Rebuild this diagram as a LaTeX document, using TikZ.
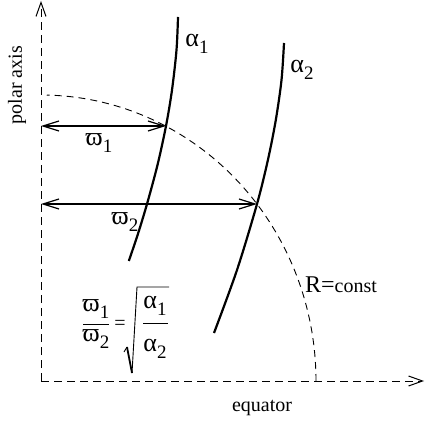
\documentclass[tikz,border=0pt]{standalone}
\usepackage{fontspec}
\setmainfont{Liberation Serif}
\usetikzlibrary{arrows.meta}
\newcommand\lsub[1]{\raisebox{-0.55ex}{\fontsize{9.5}{9.5}\selectfont #1}}
\begin{document}
\begin{tikzpicture}[x=0.5pt,y=-0.5pt,
  axis/.style={line width=0.5pt,dash pattern=on 4pt off 2.5pt,-{Straight Barb[length=7pt,width=5pt]}},
  arcline/.style={line width=0.45pt,dash pattern=on 3.5pt off 2.5pt},
  curve/.style={line width=1.1pt},
  dim/.style={line width=0.6pt,{Straight Barb[length=8pt,width=5pt]}-{Straight Barb[length=8pt,width=5pt]}},
  greek/.style={font=\fontsize{13}{13}\selectfont,inner sep=0pt},
  lbl/.style={font=\fontsize{10}{10}\selectfont},
  thin/.style={line width=0.45pt}]
\useasboundingbox (0,0) rectangle (425,426);
% axes
\coordinate (O) at (41,381);
\coordinate (Ytop) at (41,1);
\coordinate (Xend) at (424,381);
\draw[axis] (O) -- (Ytop);
\draw[axis] (O) -- (Xend);
% R = const arc
\draw[arcline] plot[domain=0:88.8,samples=80] ({41+275*cos(\x)},{381-286*sin(\x)});
% curves
\draw[curve] plot[smooth] coordinates {(178,17) (176.5,50) (172,90) (166,126) (157.5,165) (147,204) (137.6,235) (128.8,261)};
\draw[curve] plot[smooth] coordinates {(284,43) (281.5,80) (275.8,120) (267.9,160) (257,204) (237,270) (214,333)};
% dimension arrows
\coordinate (A1) at (41,126);
\coordinate (P1) at (166,126);
\coordinate (A2) at (41,204);
\coordinate (P2) at (257,204);
\draw[dim] (A1) -- (P1);
\draw[dim] (A2) -- (P2);
% labels
\node[greek] (la1) at (197,44) {α\lsub1};
\node[greek] (la2) at (302,70) {α\lsub2};
\node[greek] (lw1) at (99,143) {ϖ\lsub1};
\node[greek] (lw2) at (125,222) {ϖ\lsub2};
\node[lbl,rotate=90] (pa) at (17,85) {polar axis};
\node[lbl] (eq) at (262,408) {equator};
\node[lbl] (rc) at (341,285) {{\fontsize{12}{12}\selectfont R=}const};
% formula
\node[greek] (fw1) at (96,309) {ϖ\lsub1};
\node[greek] (fw2) at (96,339) {ϖ\lsub2};
\draw[thin] (83,324) -- (109,324);
\node[lbl,inner sep=0pt] (feq) at (120,325) {=};
\draw[thin] (124,352) -- (127,347);
\draw[line width=0.9pt] (127,347) -- (132,373);
\draw[thin] (132,373) -- (137,287) -- (169,287);
\node[greek] (fa1) at (155,306) {α\lsub1};
\node[greek] (fa2) at (155,349) {α\lsub2};
\draw[thin] (143,323) -- (168,323);
\end{tikzpicture}
\end{document}
